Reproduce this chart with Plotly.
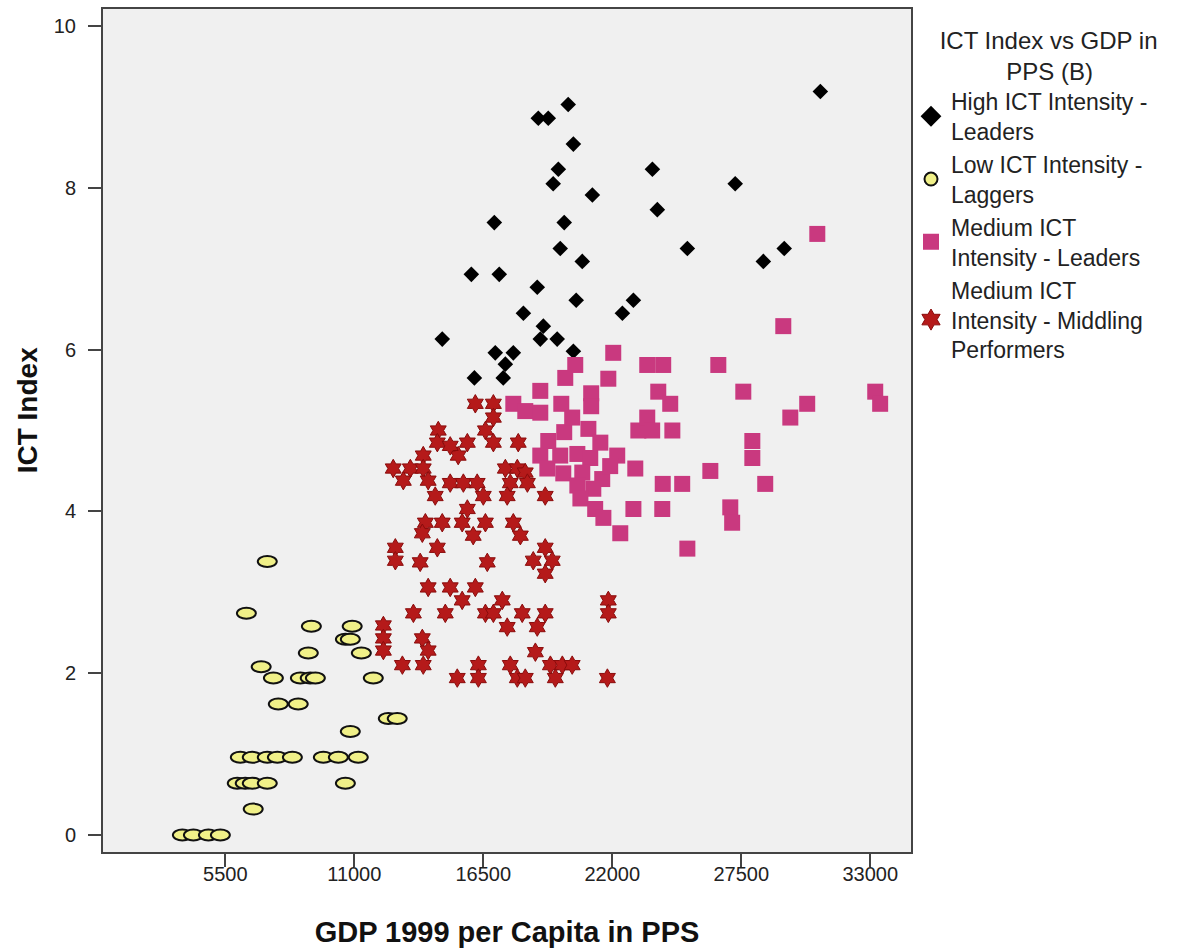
import plotly.graph_objects as go

# GDP 1999 per capita (PPS) and ICT index, grouped by ICT intensity cluster
high_x = [30870, 20120, 18845, 19270, 20340, 19700, 19480, 23710, 27240, 21150,
          16970, 19950, 23920, 19780, 20720, 25200, 29330, 28440, 15990, 17180,
          18800, 20460, 22900, 22430, 18210, 19060, 14750, 18930, 19650, 17010,
          17780, 20340, 17440, 16120, 17350]
high_y = [9.19, 9.03, 8.86, 8.86, 8.54, 8.23, 8.05, 8.23, 8.05, 7.91,
          7.57, 7.57, 7.73, 7.25, 7.09, 7.25, 7.25, 7.09, 6.93, 6.93,
          6.77, 6.61, 6.61, 6.45, 6.45, 6.29, 6.13, 6.13, 6.13, 5.96,
          5.96, 5.98, 5.82, 5.65, 5.65]

low_x = [7290, 6400, 9170, 10910, 10620, 10830, 9040, 11300, 7030, 7550,
         8700, 9120, 9340, 11810, 7760, 8610, 12450, 12830, 10830,
         6140, 6650, 7290, 7720, 8360, 9680, 10320, 11170,
         6010, 6350, 6650, 7290, 10620, 6690,
         3670, 4140, 4780, 5290]
low_y = [3.38, 2.74, 2.58, 2.58, 2.42, 2.42, 2.25, 2.25, 2.08, 1.94,
         1.94, 1.94, 1.94, 1.94, 1.62, 1.62, 1.44, 1.44, 1.28,
         0.96, 0.96, 0.96, 0.96, 0.96, 0.96, 0.96, 0.96,
         0.64, 0.64, 0.64, 0.64, 0.64, 0.32,
         0.0, 0.0, 0.0, 0.0]

med_lead_x = [30740, 29290, 22040, 23490, 24170, 26520, 21830, 20420, 19995, 27585,
              23960, 24470, 30310, 33210, 33420, 29590, 18930, 17780, 18290, 18930,
              19825, 21100, 21100, 23110, 23490, 23700, 24560, 19950, 20290, 20980,
              21490, 18930, 19780, 20510, 21060, 22210, 22980, 19230, 19910, 20720,
              21570, 20510, 21190, 20640, 21270, 21620, 22900, 24130, 24150, 24980,
              27970, 27970, 26180, 28520, 27030, 27110, 22340, 25200, 19270, 21910]
med_lead_y = [7.43, 6.29, 5.96, 5.81, 5.81, 5.81, 5.64, 5.81, 5.65, 5.48,
              5.48, 5.33, 5.33, 5.48, 5.33, 5.16, 5.49, 5.33, 5.24, 5.22,
              5.33, 5.46, 5.30, 5.00, 5.16, 5.00, 5.00, 4.98, 5.16, 5.02,
              4.85, 4.69, 4.69, 4.71, 4.66, 4.69, 4.53, 4.53, 4.47, 4.48,
              4.40, 4.32, 4.28, 4.16, 4.03, 3.92, 4.03, 4.03, 4.34, 4.34,
              4.87, 4.66, 4.50, 4.34, 4.05, 3.86, 3.73, 3.54, 4.87, 4.56]

med_mid_x = [16160, 16930, 16930, 16590, 14580, 14540, 16930, 17990, 15820, 15430,
             13940, 12660, 13390, 13940, 13090, 14150, 15090, 15650, 16240, 14450,
             16500, 17440, 17950, 18290, 17650, 18380, 17520, 19140, 15820, 14030,
             14750, 15600, 16590, 17780, 13900, 16070, 18080, 14540, 12750, 12750,
             13810, 16670, 19140, 18630, 19440, 19140, 14150, 15090, 16160, 15600,
             17310, 13520, 14880, 16590, 16930, 18160, 19140, 21830, 21830, 17520,
             18800, 12240, 12240, 12240, 13900, 14150, 13050, 13940, 18720, 19360,
             19870, 20290, 16290, 16290, 17650, 17950, 18290, 15390, 19570, 21790,
             15090]
med_mid_y = [5.33, 5.33, 5.16, 5.00, 5.00, 4.85, 4.85, 4.85, 4.85, 4.69,
             4.69, 4.53, 4.53, 4.53, 4.38, 4.38, 4.35, 4.35, 4.35, 4.19,
             4.19, 4.53, 4.53, 4.48, 4.35, 4.35, 4.19, 4.19, 4.03, 3.86,
             3.86, 3.86, 3.86, 3.86, 3.73, 3.70, 3.70, 3.55, 3.55, 3.39,
             3.37, 3.37, 3.55, 3.39, 3.39, 3.23, 3.06, 3.06, 3.06, 2.90,
             2.90, 2.74, 2.74, 2.74, 2.74, 2.74, 2.74, 2.90, 2.74, 2.57,
             2.57, 2.59, 2.43, 2.28, 2.43, 2.28, 2.10, 2.10, 2.26, 2.10,
             2.10, 2.10, 2.10, 1.94, 2.10, 1.94, 1.94, 1.94, 1.94, 1.94,
             4.81]

x_ticks = [5500, 11000, 16500, 22000, 27500, 33000]
y_ticks = [0, 2, 4, 6, 8, 10]

FONT = "Liberation Sans, Arial, sans-serif"
TEXT = "#222222"
YELLOW = "#F0F088"
BLACK = "#000000"
RED = "#B51A1A"
RED_EDGE = "#8A0C0C"
PINK = "#C9397F"

# (name, marker style for the plot, marker style for the legend key)
groups = {
    "high": ("High ICT Intensity -<br>Leaders",
             dict(symbol="diamond", size=12, color=BLACK, line=dict(width=0)),
             dict(symbol="diamond", size=16, color=BLACK, line=dict(width=0))),
    "low": ("Low ICT Intensity -<br>Laggers",
            dict(symbol="circle", size=9, color=YELLOW, line=dict(width=1.5, color="#111111")),
            dict(symbol="circle", size=13, color=YELLOW, line=dict(width=2, color="#111111"))),
    "med_lead": ("Medium ICT<br>Intensity - Leaders",
                 dict(symbol="square", size=16, color=PINK, line=dict(width=0)),
                 dict(symbol="square", size=16, color=PINK, line=dict(width=0))),
    "med_mid": ("Medium ICT<br>Intensity - Middling<br>Performers",
                dict(symbol="hexagram", size=14, color=RED, line=dict(width=1, color=RED_EDGE)),
                dict(symbol="hexagram", size=16, color=RED, line=dict(width=1, color=RED_EDGE))),
}
series = {
    "high": (high_x, high_y),
    "low": (low_x, low_y),
    "med_mid": (med_mid_x, med_mid_y),
    "med_lead": (med_lead_x, med_lead_y),
}

fig = go.Figure()

# data markers (draw order: pink squares end up on top)
for key in ["high", "low", "med_mid", "med_lead"]:
    name, mk, _ = groups[key]
    xs, ys = series[key]
    fig.add_trace(go.Scatter(x=xs, y=ys, mode="markers", name=name.replace("<br>", " "),
                             marker=mk, showlegend=False))

# legend keys with larger symbols
for rank, key in enumerate(["high", "low", "med_lead", "med_mid"], start=1):
    name, _, lk = groups[key]
    fig.add_trace(go.Scatter(x=[None], y=[None], mode="markers", name=name,
                             marker=lk, legendrank=rank, showlegend=True))

# Laggers are drawn as flat ellipses, sized in pixels around each data point
ellipses = [
    dict(type="circle", xref="x", yref="y",
         xsizemode="pixel", xanchor=gx, x0=-9.5, x1=9.5,
         ysizemode="pixel", yanchor=gy, y0=-5.5, y1=5.5,
         fillcolor=YELLOW, line=dict(color="#111111", width=2), layer="above")
    for gx, gy in zip(low_x, low_y)
]

NB = "\u00a0"
legend_title = NB * 4 + "ICT Index vs GDP in<br>" + NB * 14 + "PPS (B)"

fig.update_layout(
    width=1179, height=951,
    margin=dict(l=103, r=268, t=7, b=99),
    paper_bgcolor="#FFFFFF",
    plot_bgcolor="#F0F0F0",
    font=dict(family=FONT, color=TEXT),
    shapes=ellipses,
    showlegend=True,
    legend=dict(
        x=1.0, xanchor="left", y=0.99, yanchor="top",
        title=dict(text=legend_title, side="top",
                   font=dict(size=24, family=FONT, color=TEXT)),
        font=dict(size=23, family=FONT, color=TEXT),
        itemsizing="trace", tracegroupgap=4, bgcolor="rgba(0,0,0,0)",
    ),
    annotations=[
        dict(text="<b>ICT Index</b>", textangle=-90, xref="paper", yref="paper",
             x=-0.094, y=0.524, xanchor="center", yanchor="middle", showarrow=False,
             font=dict(size=28, family=FONT, color="#111111")),
    ],
    xaxis=dict(
        range=[286, 34735], tickmode="array", tickvals=x_ticks,
        ticktext=[str(v) for v in x_ticks],
        showgrid=False, zeroline=False,
        showline=True, mirror=True, linecolor="#444444", linewidth=2,
        ticks="outside", ticklen=13, tickwidth=2, tickcolor="#444444",
        ticklabelstandoff=-10,
        tickfont=dict(size=20, family=FONT, color=TEXT),
        title=dict(text="<b>GDP 1999 per Capita in PPS</b>",
                   font=dict(size=29, family=FONT, color="#111111"), standoff=38),
    ),
    yaxis=dict(
        range=[-0.21, 10.21], tickmode="array", tickvals=y_ticks,
        showgrid=False, zeroline=False,
        showline=True, mirror=True, linecolor="#444444", linewidth=2,
        ticks="outside", ticklen=13, tickwidth=2, tickcolor="#444444",
        ticklabelstandoff=8,
        tickfont=dict(size=20, family=FONT, color=TEXT),
    ),
)

fig.write_html("out.html")
